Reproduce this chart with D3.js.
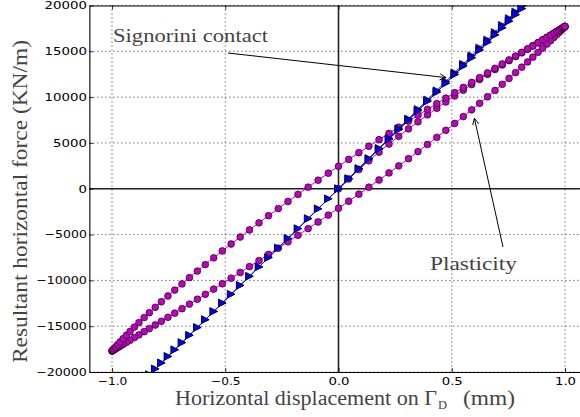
<!DOCTYPE html>
<html><head><meta charset="utf-8">
<script src="https://cdn.jsdelivr.net/npm/d3@7"></script>
<style>body{margin:0;background:#fff}svg{display:block}</style>
</head><body>
<svg id="chart" width="580" height="417"></svg>
<script>
// ---------------- data ----------------
const xTickValues = [-1.0, -0.5, 0.0, 0.5, 1.0];
const yTickValues = [-20000, -15000, -10000, -5000, 0, 5000, 10000, 15000, 20000];

// displacement history (mm): initial loading, unloading, reloading
const dispLoading = [0, 0.045, 0.090, 0.134, 0.179, 0.223, 0.266, 0.309, 0.351, 0.393, 0.434, 0.474, 0.513, 0.551, 0.588, 0.623, 0.658, 0.691, 0.723, 0.753, 0.782, 0.809, 0.835, 0.858, 0.881, 0.901, 0.920, 0.936, 0.951, 0.964, 0.975, 0.984, 0.991, 0.996, 0.999, 1.000];
const dispUnloading = [0.999, 0.996, 0.991, 0.984, 0.975, 0.964, 0.951, 0.936, 0.920, 0.901, 0.881, 0.858, 0.835, 0.809, 0.782, 0.753, 0.723, 0.691, 0.658, 0.623, 0.588, 0.551, 0.513, 0.474, 0.434, 0.393, 0.351, 0.309, 0.266, 0.223, 0.179, 0.134, 0.090, 0.045, 0, -0.045, -0.090, -0.134, -0.179, -0.223, -0.266, -0.309, -0.351, -0.393, -0.434, -0.474, -0.513, -0.551, -0.588, -0.623, -0.658, -0.691, -0.723, -0.753, -0.782, -0.809, -0.835, -0.858, -0.881, -0.901, -0.920, -0.936, -0.951, -0.964, -0.975, -0.984, -0.991, -0.996, -0.999, -1.000];
const dispReloading = [-0.999, -0.996, -0.991, -0.984, -0.975, -0.964, -0.951, -0.936, -0.920, -0.901, -0.881, -0.858, -0.835, -0.809, -0.782, -0.753, -0.723, -0.691, -0.658, -0.623, -0.588, -0.551, -0.513, -0.474, -0.434, -0.393, -0.351, -0.309, -0.266, -0.223, -0.179, -0.134, -0.090, -0.045, 0, 0.045, 0.090, 0.134, 0.179, 0.223, 0.266, 0.309, 0.351, 0.393, 0.434, 0.474, 0.513, 0.551, 0.588, 0.623, 0.658, 0.691, 0.723, 0.753, 0.782, 0.809, 0.835, 0.858, 0.881, 0.901, 0.920, 0.936, 0.951, 0.964, 0.975, 0.984, 0.991, 0.996, 0.999, 1.000];

// Plasticity: resultant horizontal force (KN/m)
const plasticLoading = [0, 1072, 2095, 3053, 3995, 4883, 5722, 6535, 7309, 8063, 8783, 9471, 10130, 10761, 11367, 11932, 12491, 13013, 13514, 13980, 14427, 14840, 15236, 15585, 15932, 16232, 16517, 16756, 16979, 17172, 17336, 17469, 17573, 17647, 17691, 17705];
const plasticUnloading = [17676, 17602, 17480, 17312, 17094, 16830, 16520, 16166, 15790, 15348, 14888, 14364, 13846, 13268, 12674, 12044, 11402, 10726, 10040, 9322, 8614, 7876, 7128, 6372, 5608, 4834, 4054, 3282, 2502, 1732, 956, 168, -592, -1362, -2122, -2876, -3624, -4348, -5082, -5794, -6484, -7170, -7836, -8498, -9140, -9764, -10368, -10954, -11522, -12056, -12590, -13092, -13576, -14028, -14464, -14870, -15258, -15604, -15946, -16244, -16526, -16764, -16986, -17180, -17342, -17476, -17578, -17652, -17696, -17710];
const plasticReloading = [-17671, -17587, -17450, -17262, -17014, -16720, -16370, -15976, -15570, -15098, -14608, -14064, -13526, -12938, -12334, -11704, -11062, -10386, -9700, -8982, -8274, -7536, -6788, -6032, -5268, -4494, -3714, -2942, -2162, -1392, -616, 172, 932, 1702, 2462, 3206, 3934, 4638, 5352, 6044, 6714, 7380, 8026, 8668, 9290, 9894, 10483, 11054, 11607, 12126, 12650, 13142, 13616, 14058, 14484, 14885, 15268, 15609, 15946, 16244, 16526, 16764, 16986, 17180, 17342, 17476, 17578, 17652, 17696, 17710];

// Signorini contact: resultant horizontal force (KN/m)
const signoriniLoading = [0, 1112, 2223, 3310, 4421, 5508, 6570, 7632, 8670, 9707, 10720, 11708, 12671, 13610, 14524, 15388, 16253, 17068, 17858, 18599, 19315, 19982, 20625, 21193, 21761, 22255, 22724, 23119, 23490, 23811, 24083, 24305, 24478, 24601, 24675, 24700];
const signoriniUnloading = [24276, 24203, 24081, 23911, 23693, 23425, 23109, 22745, 22356, 21894, 21408, 20849, 20291, 19659, 19003, 18298, 17569, 16791, 15989, 15139, 14288, 13389, 12466, 11518, 10546, 9550, 8529, 7509, 6464, 5419, 4350, 3256, 2187, 1094, 0, -1094, -2187, -3256, -4350, -5419, -6464, -7509, -8529, -9550, -10546, -11518, -12466, -13389, -14288, -15139, -15989, -16791, -17569, -18298, -19003, -19659, -20291, -20849, -21408, -21894, -22356, -22745, -23109, -23425, -23693, -23911, -24081, -24203, -24276, -24300];
const signoriniReloading = [-24276, -24203, -24081, -23911, -23693, -23425, -23109, -22745, -22356, -21894, -21408, -20849, -20291, -19659, -19003, -18298, -17569, -16791, -15989, -15139, -14288, -13389, -12466, -11518, -10546, -9550, -8529, -7509, -6464, -5419, -4350, -3256, -2187, -1094, 0, 1094, 2187, 3256, 4350, 5419, 6464, 7509, 8529, 9550, 10546, 11518, 12466, 13389, 14288, 15139, 15989, 16791, 17569, 18298, 19003, 19659, 20291, 20849, 21408, 21894, 22356, 22745, 23109, 23425, 23693, 23911, 24081, 24203, 24276, 24300];

// ---------------- drawing ----------------
const svg = d3.select("#chart");
const x = d3.scaleLinear().domain([-1.1, 1.1]).range([89.35, 587.65]);
const y = d3.scaleLinear().domain([-20000, 20000]).range([372, 5.5]);
const [x0, x1] = x.range(), [yb, yt] = y.range();

svg.append("defs").append("clipPath").attr("id", "plotclip")
  .append("rect").attr("x", x0).attr("y", yt).attr("width", x1 - x0).attr("height", yb - yt);

const minus = s => s.replace(/-/g, "\u2212");
const labelLen = s => { let w = 0; for (const c of s) w += (c === "." ? 4.2 : 8.45); return w; };

// grid
const grid = svg.append("g");
grid.selectAll(".gx").data(xTickValues).join("line")
  .attr("x1", d => x(d)).attr("x2", d => x(d)).attr("y1", yt).attr("y2", yb)
  .attr("stroke", "#000").attr("stroke-width", 0.8).attr("stroke-dasharray", "1,3");
grid.selectAll(".gy").data(yTickValues).join("line")
  .attr("y1", d => y(d)).attr("y2", d => y(d)).attr("x1", x0).attr("x2", x1)
  .attr("stroke", "#000").attr("stroke-width", 0.8).attr("stroke-dasharray", "1,3");

// zero lines
svg.append("line").attr("x1", x0).attr("x2", x1).attr("y1", y(0)).attr("y2", y(0))
  .attr("stroke", "#222").attr("stroke-width", 1.6);
svg.append("line").attr("x1", x(0)).attr("x2", x(0)).attr("y1", yt).attr("y2", yb)
  .attr("stroke", "#222").attr("stroke-width", 1.6);

// axes
const yAxis = svg.append("g").attr("transform", `translate(${x0},0)`)
  .call(d3.axisLeft(y).tickValues(yTickValues).tickSize(-4).tickSizeOuter(0).tickPadding(2.5)
    .tickFormat(d => minus(d3.format("d")(d))));
const yAxisR = svg.append("g").attr("transform", `translate(${x1},0)`)
  .call(d3.axisRight(y).tickValues(yTickValues).tickSize(-4).tickSizeOuter(0).tickFormat(""));
const xAxis = svg.append("g").attr("transform", `translate(0,${yb})`)
  .call(d3.axisBottom(x).tickValues(xTickValues).tickSize(-4).tickSizeOuter(0).tickPadding(6)
    .tickFormat(d => minus(d3.format(".1f")(d))));
const xAxisT = svg.append("g").attr("transform", `translate(0,${yt})`)
  .call(d3.axisTop(x).tickValues(xTickValues).tickSize(-4).tickSizeOuter(0).tickFormat(""));
[yAxis, yAxisR, xAxis, xAxisT].forEach(g => {
  g.select(".domain").attr("stroke", "#000").attr("stroke-width", 1.1);
  g.selectAll(".tick line").attr("stroke", "#000").attr("stroke-width", 0.8);
  g.selectAll("text").attr("font-family", "DejaVu Sans").attr("font-size", 10.5).attr("fill", "#000")
    .attr("textLength", function () { return labelLen(this.textContent); })
    .attr("lengthAdjust", "spacingAndGlyphs");
});

// series
const plot = svg.append("g").attr("clip-path", "url(#plotclip)");
const pts = (xs, ys) => xs.map((d, i) => [d, ys[i]]);
const plastic = pts(dispLoading, plasticLoading)
  .concat(pts(dispUnloading, plasticUnloading), pts(dispReloading, plasticReloading));
const signorini = pts(dispLoading, signoriniLoading)
  .concat(pts(dispUnloading, signoriniUnloading), pts(dispReloading, signoriniReloading));
const line = d3.line().x(d => x(d[0])).y(d => y(d[1]));

plot.append("path").datum(plastic).attr("d", line).attr("fill", "none")
  .attr("stroke", "#bf00bf").attr("stroke-width", 1);
plot.selectAll(".pc").data(plastic).join("circle")
  .attr("cx", d => x(d[0])).attr("cy", d => y(d[1])).attr("r", 3.4)
  .attr("fill", "#bf00bf").attr("stroke", "#000").attr("stroke-width", 0.6);

plot.append("path").datum(signorini).attr("d", line).attr("fill", "none")
  .attr("stroke", "#0000ff").attr("stroke-width", 1);
const tri = 3.8;
plot.selectAll(".st").data(signorini).join("path")
  .attr("transform", d => `translate(${x(d[0])},${y(d[1])})`)
  .attr("d", `M${tri},0L${-tri},${-tri}L${-tri},${tri}Z`)
  .attr("fill", "#0000ff").attr("stroke", "#000").attr("stroke-width", 0.6);

// annotations
const annotations = [
  { text: "Signorini contact", tx: 113, ty: 42, len: 155, from: [228, 53], to: [0.475, 12130] },
  { text: "Plasticity", tx: 430, ty: 270, len: 87, from: [503, 247], to: [0.6, 7690] }
];
const ann = svg.append("g");
annotations.forEach(a => {
  ann.append("text").attr("x", a.tx).attr("y", a.ty).text(a.text)
    .attr("font-family", "Liberation Serif").attr("font-size", 19).attr("fill", "#444")
    .attr("textLength", a.len).attr("lengthAdjust", "spacingAndGlyphs");
  const ex = x(a.to[0]), ey = y(a.to[1]);
  const [sx, sy] = a.from;
  ann.append("line").attr("x1", sx).attr("y1", sy).attr("x2", ex).attr("y2", ey)
    .attr("stroke", "#000").attr("stroke-width", 1);
  const ang = Math.atan2(ey - sy, ex - sx), L = 7, spread = 0.45;
  const hp = [ang + Math.PI - spread, ang + Math.PI + spread]
    .map(t => [ex + L * Math.cos(t), ey + L * Math.sin(t)]);
  ann.append("path").attr("d", `M${hp[0][0]},${hp[0][1]}L${ex},${ey}L${hp[1][0]},${hp[1][1]}`)
    .attr("fill", "none").attr("stroke", "#000").attr("stroke-width", 1);
});

// axis labels
const lab = svg.append("g").attr("font-family", "Liberation Serif").attr("fill", "#444");
lab.append("text").attr("x", 175).attr("y", 405).attr("font-size", 20)
  .attr("textLength", 262).attr("lengthAdjust", "spacingAndGlyphs")
  .text("Horizontal displacement on \u0393");
lab.append("text").attr("x", 438).attr("y", 409).attr("font-size", 13)
  .attr("textLength", 9).attr("lengthAdjust", "spacingAndGlyphs").text("D");
lab.append("text").attr("x", 463).attr("y", 405).attr("font-size", 20)
  .attr("textLength", 52).attr("lengthAdjust", "spacingAndGlyphs").text("(mm)");
lab.append("text").attr("transform", "translate(26.5,363) rotate(-90)").attr("font-size", 20)
  .attr("textLength", 323).attr("lengthAdjust", "spacingAndGlyphs")
  .text("Resultant horizontal force (KN/m)");
</script>
</body></html>
